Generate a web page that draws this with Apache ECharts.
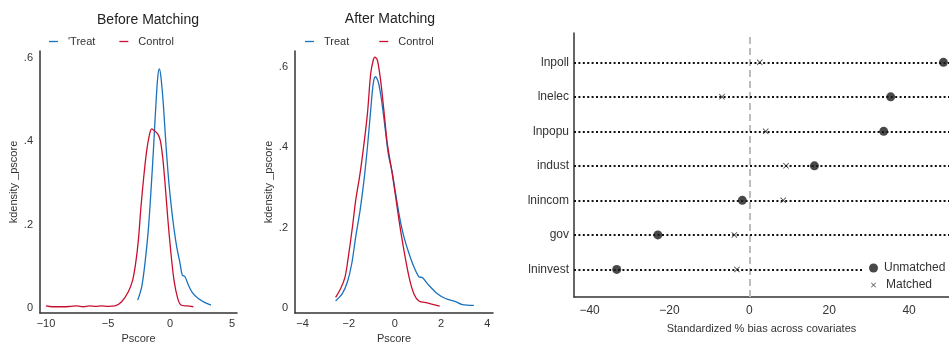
<!DOCTYPE html>
<html>
<head>
<meta charset="utf-8">
<script src="https://cdn.jsdelivr.net/npm/echarts@6/dist/echarts.min.js"></script>
<style>
html,body{margin:0;padding:0;background:#fff;}
#main{width:949px;height:342px;}
</style>
</head>
<body>
<div id="main"></div>
<script>
// Panel 1: Before Matching  [pscore, density]
const beforeTreat = [[-2.6,0.019],[-2.28,0.051],[-2.02,0.107],[-1.75,0.187],[-1.53,0.283],[-1.34,0.378],[-1.15,0.482],[-0.99,0.554],[-0.86,0.574],[-0.73,0.554],[-0.54,0.49],[-0.35,0.402],[-0.13,0.314],[0.08,0.25],[0.3,0.195],[0.54,0.147],[0.81,0.107],[0.99,0.079],[1.21,0.075],[1.48,0.055],[1.8,0.037],[2.28,0.023],[2.82,0.013],[3.31,0.007]];
const beforeControl = [[-10,0.005],[-9.5,0.003],[-9,0.003],[-8.5,0.003],[-8,0.004],[-7.5,0.005],[-7,0.003],[-6.5,0.005],[-6,0.004],[-5.5,0.005],[-5,0.004],[-4.44,0.005],[-3.9,0.015],[-3.36,0.039],[-3.01,0.067],[-2.77,0.107],[-2.55,0.163],[-2.34,0.243],[-2.12,0.314],[-1.88,0.378],[-1.67,0.414],[-1.48,0.43],[-1.26,0.426],[-0.99,0.418],[-0.78,0.402],[-0.59,0.362],[-0.4,0.299],[-0.19,0.219],[0.05,0.139],[0.32,0.067],[0.62,0.023],[0.89,0.007],[1.34,0.005],[1.88,0.003]];
// Panel 2: After Matching
const afterTreat = [[-2.57,0.018],[-2.28,0.036],[-2.06,0.065],[-1.87,0.111],[-1.7,0.177],[-1.51,0.243],[-1.34,0.318],[-1.19,0.401],[-1.05,0.492],[-0.94,0.558],[-0.84,0.575],[-0.72,0.562],[-0.58,0.517],[-0.43,0.45],[-0.29,0.384],[-0.11,0.335],[0.03,0.285],[0.2,0.227],[0.39,0.177],[0.61,0.136],[0.82,0.103],[1.04,0.078],[1.19,0.076],[1.47,0.057],[1.84,0.036],[2.19,0.024],[2.63,0.016],[2.92,0.009],[3.42,0.007]];
const afterControl = [[-2.57,0.027],[-2.35,0.049],[-2.16,0.078],[-2.02,0.127],[-1.84,0.202],[-1.7,0.268],[-1.51,0.335],[-1.34,0.409],[-1.19,0.484],[-1.05,0.583],[-0.94,0.616],[-0.87,0.624],[-0.76,0.616],[-0.62,0.566],[-0.48,0.492],[-0.33,0.409],[-0.14,0.343],[0.03,0.277],[0.2,0.21],[0.39,0.144],[0.61,0.078],[0.82,0.036],[1.04,0.018],[1.4,0.013],[1.94,0.005]];
// Panel 3: standardized bias (bottom to top)
const covariates = ['lninvest','gov','lnincom','indust','lnpopu','lnelec','lnpoll'];
const unmatched = [-33.2,-22.9,-1.75,16.3,33.65,35.4,48.6];
const matched = [-3.1,-3.75,8.5,9.2,4.1,-6.85,2.6];
// tick labels
const ticks1X = [-10,-5,0,5];
const ticks2X = [-4,-2,0,2,4];
const ticksY = [0,0.2,0.4,0.6];
const ticks3X = [-40,-20,0,20,40];

const FONT = 'Liberation Sans, Arial, sans-serif';
const TXT = '#333';
const BLUE = '#1a72bd';
const RED = '#c8102e';
const minus = v => String(v).replace('-', '\u2212');
const yFmt = v => v === 0 ? '0' : '.' + Math.round(v*10);
const crossPath = 'path://M0,1L1,0L5,4L9,0L10,1L6,5L10,9L9,10L5,6L1,10L0,9L4,5Z';

function densX(idx, min, max, ticks){
  return {type:'value', gridIndex:idx, min:min, max:max,
    name:'Pscore', nameLocation:'middle', nameGap:20,
    nameTextStyle:{fontFamily:FONT,fontSize:11,color:TXT},
    axisLine:{show:true,onZero:false,lineStyle:{color:'#333',width:1.5}},
    axisTick:{show:false}, splitLine:{show:false},
    axisLabel:{customValues:ticks, formatter:minus, fontFamily:FONT, fontSize:11, color:TXT, margin:5}};
}
function densY(idx, min, max){
  return {type:'value', gridIndex:idx, min:min, max:max,
    name:'kdensity _pscore', nameLocation:'middle', nameGap:20, nameRotate:90,
    nameTextStyle:{fontFamily:FONT,fontSize:11,color:TXT},
    axisLine:{show:true,onZero:false,lineStyle:{color:'#333',width:1.5}},
    axisTick:{show:false}, splitLine:{show:false},
    axisLabel:{customValues:ticksY, formatter:yFmt, fontFamily:FONT, fontSize:11, color:TXT, margin:7}};
}
function dens(name, data, color, idx){
  return {type:'line', name:name, data:data, xAxisIndex:idx, yAxisIndex:idx,
    showSymbol:false, smooth:0.3, lineStyle:{color:color,width:1.3}, itemStyle:{color:color}, silent:true};
}

const chart = echarts.init(document.getElementById('main'), null, {renderer:'canvas'});
chart.setOption({
  animation:false,
  backgroundColor:'#fff',
  title:[
    {text:'Before Matching', left:143, top:8, textAlign:'center', textStyle:{fontFamily:FONT,fontSize:14,fontWeight:'normal',color:'#222'}},
    {text:'After Matching', left:385, top:7, textAlign:'center', textStyle:{fontFamily:FONT,fontSize:14,fontWeight:'normal',color:'#222'}}
  ],
  legend:[
    {data:["'Treat",'Control'], left:44, top:31, icon:'rect', itemWidth:9, itemHeight:1.3, itemGap:24,
      textStyle:{fontFamily:FONT,fontSize:11,color:TXT,padding:[0,0,0,5]}},
    {data:['Treat','Control'], left:300, top:31, icon:'rect', itemWidth:9, itemHeight:1.3, itemGap:30,
      textStyle:{fontFamily:FONT,fontSize:11,color:TXT,padding:[0,0,0,5]}},
    {data:[{name:'Unmatched',icon:'circle'}], left:864, top:260, z:20,
      backgroundColor:'#fff', padding:[2,10,2,5], itemWidth:9, itemHeight:9,
      textStyle:{fontFamily:FONT,fontSize:12,color:TXT,padding:[0,0,0,1]}},
    {data:[{name:'Matched',icon:crossPath}], left:866, top:277, z:20,
      backgroundColor:'#fff', padding:[2,10,2,5], itemWidth:5, itemHeight:5,
      textStyle:{fontFamily:FONT,fontSize:12,color:TXT,padding:[0,0,0,5]}}
  ],
  grid:[
    {left:40, top:51, width:197, height:262, outerBoundsMode:'none', containLabel:false},
    {left:295, top:51, width:198, height:262, outerBoundsMode:'none', containLabel:false},
    {left:574, top:33, width:375, height:264, outerBoundsMode:'none', containLabel:false}
  ],
  xAxis:[
    densX(0,-10.48,5.4,ticks1X),
    densX(1,-4.33,4.25,ticks2X),
    {type:'value', gridIndex:2, min:-43.9, max:50,
      name:'Standardized % bias across covariates', nameLocation:'middle', nameGap:26,
      nameTextStyle:{fontFamily:FONT,fontSize:11,color:TXT},
      axisLine:{show:true,onZero:false,lineStyle:{color:'#333',width:1.5}},
      axisTick:{show:false}, splitLine:{show:false},
      axisLabel:{customValues:ticks3X, formatter:minus, fontFamily:FONT, fontSize:12, color:TXT, margin:8}}
  ],
  yAxis:[
    densY(0,-0.012,0.617),
    densY(1,-0.012,0.639),
    {type:'value', gridIndex:2, min:0.2, max:7.85,
      axisLine:{show:true,onZero:false,lineStyle:{color:'#333',width:1.5}},
      axisTick:{show:false}, splitLine:{show:false},
      axisLabel:{customValues:covariates.map((c,i)=>i+1), formatter:v=>covariates[Math.round(v)-1],
        fontFamily:FONT, fontSize:12, color:TXT, margin:5}}
  ],
  series:[
    dens("'Treat", beforeTreat, BLUE, 0),
    dens('Control', beforeControl, RED, 0),
    dens('Treat', afterTreat, BLUE, 1),
    dens('Control', afterControl, RED, 1),
    {type:'line', xAxisIndex:2, yAxisIndex:2, data:[], silent:true, z:1,
      markLine:{silent:true, symbol:'none', label:{show:false},
        lineStyle:{color:'#bdbdbd', width:2, type:[7,4]}, data:[{xAxis:0}]}},
    {type:'line', xAxisIndex:2, yAxisIndex:2, data:[], silent:true, z:2,
      markLine:{silent:true, symbol:'none', label:{show:false},
        lineStyle:{color:'#111', width:2, type:[2,2.4]},
        data:covariates.map((c,i)=>({yAxis:i+1}))}},
    {type:'scatter', name:'Matched', xAxisIndex:2, yAxisIndex:2, z:5,
      data:matched.map((v,i)=>[v,i+1]), symbol:crossPath, symbolSize:6, itemStyle:{color:'#222'}},
    {type:'scatter', name:'Unmatched', xAxisIndex:2, yAxisIndex:2, z:6,
      data:unmatched.map((v,i)=>[v,i+1]), symbol:'circle', symbolSize:9, itemStyle:{color:'#1a1a1a'}}
  ]
});
</script>
</body>
</html>
